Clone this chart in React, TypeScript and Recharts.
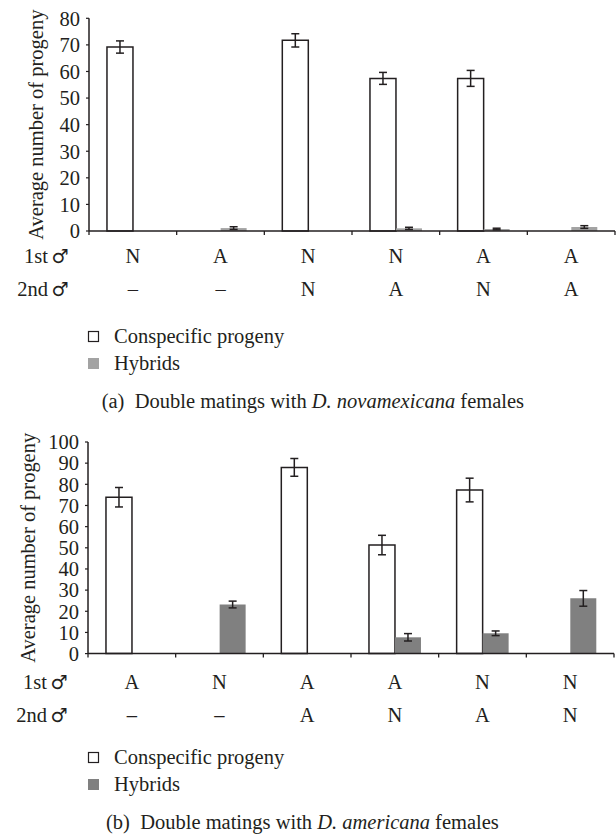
import { Bar, BarChart, ErrorBar, Label, XAxis, YAxis } from "recharts";

// (a) D. novamexicana females
const FIRST_A = ["N", "A", "N", "N", "A", "A"];
const SECOND_A = ["–", "–", "N", "A", "N", "A"];
const CONSPECIFIC_A = [69.2, null, 71.7, 57.4, 57.4, null];
const CONSPECIFIC_ERR_A = [2.3, null, 2.5, 2.25, 3.0, null];
const HYBRIDS_A = [null, 1.1, null, 1.0, 0.75, 1.5];
const HYBRIDS_ERR_A = [null, 0.5, null, 0.4, 0.3, 0.5];
const TICKS_A = [0, 10, 20, 30, 40, 50, 60, 70, 80];

// (b) D. americana females
const FIRST_B = ["A", "N", "A", "A", "N", "N"];
const SECOND_B = ["–", "–", "A", "N", "A", "N"];
const CONSPECIFIC_B = [73.9, null, 88.0, 51.3, 77.3, null];
const CONSPECIFIC_ERR_B = [4.6, null, 4.2, 4.6, 5.6, null];
const HYBRIDS_B = [null, 23.2, null, 7.7, 9.6, 26.1];
const HYBRIDS_ERR_B = [null, 1.6, null, 1.75, 1.1, 3.7];
const TICKS_B = [0, 10, 20, 30, 40, 50, 60, 70, 80, 90, 100];

const W = 616;
const INK = "#231f20";
const FONT = "Liberation Serif, DejaVu Serif, Noto Serif, serif";
const FS = 20.5;
const GREY_A = "#a3a3a3";
const GREY_B = "#808080";
const X_AXIS_H = 90;

type Panel = {
  first: string[];
  second: string[];
  con: (number | null)[];
  conErr: (number | null)[];
  hyb: (number | null)[];
  hybErr: (number | null)[];
  ticks: number[];
  grey: string;
  top: number;
  plotBottom: number;
  left: number;
  right: number;
  marginTop: number;
  labelX: number;
  row1: number;
  row2: number;
};

const txt = { fontFamily: FONT, fontSize: FS, fill: INK };
const sym = { fontFamily: "DejaVu Sans", fontSize: 19, fill: INK };

function Chart({ p }: { p: Panel }) {
  const data = p.first.map((f, i) => ({
    key: String(i),
    first: f,
    second: p.second[i],
    con: p.con[i],
    conErr: p.conErr[i],
    hyb: p.hyb[i],
    hybErr: p.hybErr[i],
  }));
  const band = (W - p.left - p.right) / data.length;
  const height = p.plotBottom + X_AXIS_H;
  const plotMid = (p.marginTop + p.plotBottom) / 2;

  const Tick = (props: any) => {
    const { x, y, index } = props;
    const d = data[index];
    return (
      <g>
        <line x1={x - band / 2} x2={x - band / 2} y1={y} y2={y + 4} stroke={INK} strokeWidth={1.3} />
        {index === data.length - 1 && (
          <line x1={x + band / 2} x2={x + band / 2} y1={y} y2={y + 4} stroke={INK} strokeWidth={1.3} />
        )}
        <text x={x} y={y + p.row1} textAnchor="middle" style={txt}>{d.first}</text>
        <text x={x} y={y + p.row2} textAnchor="middle" style={txt}>{d.second}</text>
        {index === 0 && (
          <g>
            <text x={p.left - 41} y={y + p.row1} textAnchor="end" style={txt}>1st</text>
            <text x={p.left - 29} y={y + p.row1} textAnchor="middle" style={sym}>♂</text>
            <text x={p.left - 41} y={y + p.row2} textAnchor="end" style={txt}>2nd</text>
            <text x={p.left - 29} y={y + p.row2} textAnchor="middle" style={sym}>♂</text>
          </g>
        )}
      </g>
    );
  };

  return (
    <div style={{ position: "absolute", left: 0, top: p.top }}>
      <BarChart
        width={W}
        height={height}
        data={data}
        margin={{ top: p.marginTop, right: p.right, bottom: 0, left: 0 }}
        barCategoryGap="20.5%"
        barGap={0}
      >
        <XAxis
          dataKey="key"
          height={X_AXIS_H}
          tickSize={0}
          tickMargin={0}
          tickLine={false}
          interval={0}
          axisLine={{ stroke: INK, strokeWidth: 1.5 }}
          tick={Tick}
        />
        <YAxis
          width={p.left}
          domain={[0, p.ticks[p.ticks.length - 1]]}
          ticks={p.ticks}
          interval={0}
          tickSize={3}
          tickMargin={6}
          axisLine={{ stroke: INK, strokeWidth: 1.5 }}
          tickLine={{ stroke: INK, strokeWidth: 1.2 }}
          tick={{ fill: INK, fontSize: FS, fontFamily: FONT }}
        >
          <Label
            content={() => (
              <text
                x={p.labelX}
                y={plotMid}
                transform={`rotate(-90 ${p.labelX} ${plotMid})`}
                textAnchor="middle"
                style={txt}
              >
                Average number of progeny
              </text>
            )}
          />
        </YAxis>
        <Bar dataKey="con" fill="#ffffff" stroke={INK} strokeWidth={1.5} isAnimationActive={false}>
          <ErrorBar dataKey="conErr" width={4} stroke={INK} strokeWidth={1.5} isAnimationActive={false} />
        </Bar>
        <Bar dataKey="hyb" fill={p.grey} isAnimationActive={false}>
          <ErrorBar dataKey="hybErr" width={4} stroke={INK} strokeWidth={1.5} isAnimationActive={false} />
        </Bar>
      </BarChart>
    </div>
  );
}

function Legend({ y, grey }: { y: number; grey: string }) {
  return (
    <g>
      <rect x={88.5} y={y + 0.5} width={10} height={10} fill="#ffffff" stroke={INK} strokeWidth={1.2} />
      <text x={114} y={y + 12} style={txt}>Conspecific progeny</text>
      <rect x={88} y={y + 27} width={11} height={11} fill={grey} />
      <text x={114} y={y + 38.5} style={txt}>Hybrids</text>
    </g>
  );
}

const PANEL_A: Panel = {
  first: FIRST_A,
  second: SECOND_A,
  con: CONSPECIFIC_A,
  conErr: CONSPECIFIC_ERR_A,
  hyb: HYBRIDS_A,
  hybErr: HYBRIDS_ERR_A,
  ticks: TICKS_A,
  grey: GREY_A,
  top: 0,
  plotBottom: 231,
  left: 89,
  right: 1,
  marginTop: 18.3,
  labelX: 43,
  row1: 32,
  row2: 65,
};

const PANEL_B: Panel = {
  first: FIRST_B,
  second: SECOND_B,
  con: CONSPECIFIC_B,
  conErr: CONSPECIFIC_ERR_B,
  hyb: HYBRIDS_B,
  hybErr: HYBRIDS_ERR_B,
  ticks: TICKS_B,
  grey: GREY_B,
  top: 423.7,
  plotBottom: 229.6,
  left: 88,
  right: 2,
  marginTop: 18,
  labelX: 35,
  row1: 35.7,
  row2: 68.7,
};

export default function App() {
  return (
    <div style={{ position: "absolute", left: 0, top: 0, width: W, height: 834, background: "#fff" }}>
      <Chart p={PANEL_A} />
      <Chart p={PANEL_B} />
      <svg width={W} height={834} style={{ position: "absolute", left: 0, top: 0, pointerEvents: "none" }}>
        <Legend y={331} grey={GREY_A} />
        <text x={101.7} y={408} style={{ ...txt, whiteSpace: "pre" }}>
          (a)  Double matings with <tspan fontStyle="italic">D. novamexicana</tspan> females
        </text>
        <Legend y={752} grey={GREY_B} />
        <text x={106} y={829} style={{ ...txt, whiteSpace: "pre" }}>
          (b)  Double matings with <tspan fontStyle="italic">D. americana</tspan> females
        </text>
      </svg>
    </div>
  );
}
